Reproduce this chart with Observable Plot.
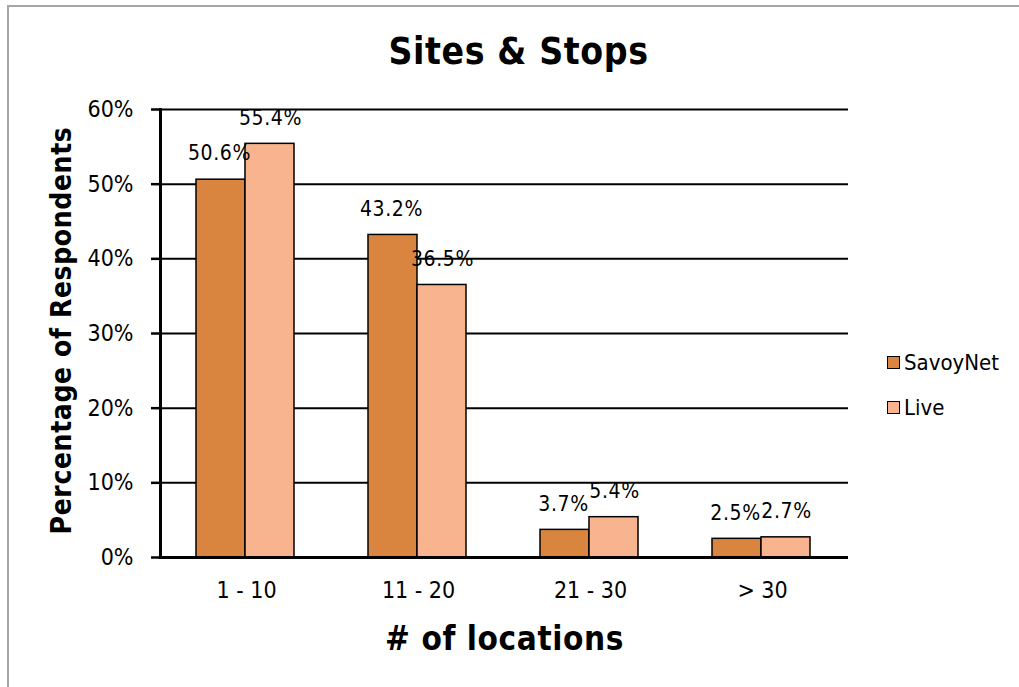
<!DOCTYPE html>
<html>
<head>
<meta charset="utf-8">
<script src="https://cdn.jsdelivr.net/npm/d3@7"></script>
<script src="https://cdn.jsdelivr.net/npm/@observablehq/plot@0.6"></script>
<style>
  html, body { margin: 0; padding: 0; background: #fff; }
  #wrap { position: relative; width: 1019px; height: 687px; overflow: hidden; font-family: "DejaVu Sans Condensed", "DejaVu Sans", sans-serif; }
  #border { position: absolute; left: 7px; top: 5px; width: 1100px; height: 800px; border-left: 2px solid #a6a6a6; border-top: 2px solid #a6a6a6; }
  #chart { position: absolute; left: 0; top: 0; }
  #chart svg g[aria-label="text"] text { letter-spacing: 0.6px; }
  #legend { position: absolute; left: 887px; top: 348px; font-size: 22px; color: #000; }
  .item { display: flex; align-items: center; height: 28px; margin-bottom: 17px; }
  .sw { width: 11px; height: 11px; border: 1.5px solid #000; margin-right: 4px; }
</style>
</head>
<body>
<div id="wrap">
  <div id="border"></div>
  <div id="chart"></div>
  <div id="legend"></div>
</div>
<script>
// Share of respondents by number of locations, for each product
const categories = ["1 - 10", "11 - 20", "21 - 30", "> 30"];
const seriesNames = ["SavoyNet", "Live"];
const savoyNet = [0.506, 0.432, 0.037, 0.025];
const live = [0.554, 0.365, 0.054, 0.027];
const yTicks = [0, 0.1, 0.2, 0.3, 0.4, 0.5, 0.6];
const colors = ["#d9843f", "#f7b48e"];

const rows = categories.map((c, i) => ({category: c, SavoyNet: savoyNet[i], Live: live[i]}));
const pct = d3.format(".1%");
const font = "DejaVu Sans Condensed, DejaVu Sans, sans-serif";

const chart = Plot.plot({
  width: 1019,
  height: 687,
  marginLeft: 160,
  marginRight: 171,
  marginTop: 109,
  marginBottom: 130,
  style: {fontFamily: font, background: "transparent", color: "#000"},
  x: {domain: categories, padding: 0},
  y: {domain: [0, 0.6]},
  marks: [
    Plot.ruleY(yTicks.slice(1), {stroke: "#000", strokeWidth: 2}),
    Plot.barY(rows, {x: "category", y: "SavoyNet", fill: colors[0], stroke: "#000", strokeWidth: 1.5, insetLeft: 36, insetRight: 87}),
    Plot.barY(rows, {x: "category", y: "Live", fill: colors[1], stroke: "#000", strokeWidth: 1.5, insetLeft: 85, insetRight: 38}),
    Plot.text(rows, {x: "category", y: "SavoyNet", text: d => pct(d.SavoyNet), dx: -27, dy: -26, fontSize: 21, fill: "#000"}),
    Plot.text(rows, {x: "category", y: "Live", text: d => pct(d.Live), dx: 24, dy: -26, fontSize: 21, fill: "#000"}),
    Plot.ruleY([0], {stroke: "#000", strokeWidth: 3}),
    Plot.frame({anchor: "left", stroke: "#000", strokeWidth: 3}),
    Plot.axisY({ticks: yTicks, tickFormat: d3.format(".0%"), tickSize: 9, tickPadding: 18, fontSize: 23, strokeWidth: 2.5, label: null}),
    Plot.axisX({tickSize: 0, tickPadding: 24, fontSize: 23, label: null}),
    Plot.text(["Sites & Stops"], {frameAnchor: "top", dx: 14, dy: -72, fontSize: 37, fontWeight: "bold", fill: "#000"}),
    Plot.text(["Percentage of Respondents"], {frameAnchor: "left", textAnchor: "middle", lineAnchor: "middle", dx: -98, dy: -3, rotate: -90, fontSize: 28, fontWeight: "bold", fill: "#000"}),
    Plot.text(["# of locations"], {frameAnchor: "bottom", dy: 92, fontSize: 33, fontWeight: "bold", fill: "#000"})
  ]
});
document.getElementById("chart").appendChild(chart);

// Legend
const legend = document.getElementById("legend");
seriesNames.forEach((name, i) => {
  const item = document.createElement("div");
  item.className = "item";
  const sw = document.createElement("span");
  sw.className = "sw";
  sw.style.background = colors[i];
  const label = document.createElement("span");
  label.textContent = name;
  item.appendChild(sw);
  item.appendChild(label);
  legend.appendChild(item);
});
</script>
</body>
</html>
